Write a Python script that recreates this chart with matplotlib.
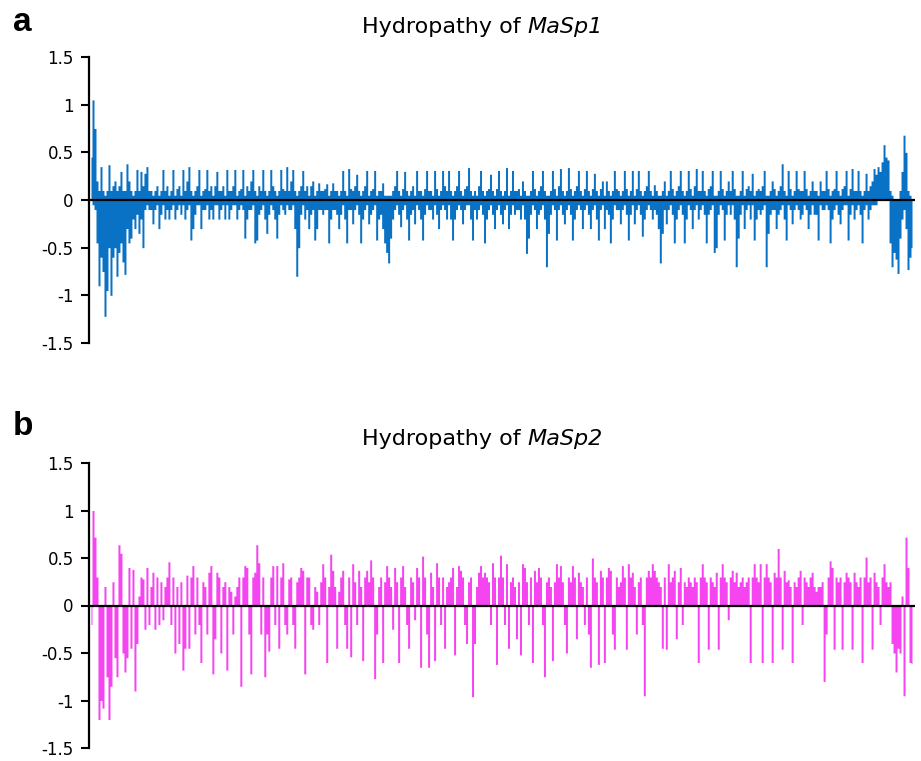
import numpy as np
import matplotlib
matplotlib.use("Agg")
import matplotlib.pyplot as plt

plt.rcParams["font.family"] = ["DejaVu Sans"]

# MaSp1: highest and lowest hydropathy in each ~2 px column
masp1_high = [
    0.45, 1.05, 0.75, 0.2, 0.1, 0.35, 0.1, 0.05, 0.1, 0.37,
    0.1, 0.15, 0.2, 0.1, 0.15, 0.3, 0.1, 0.1, 0.38, 0.2,
    0.1, 0.05, 0.1, 0.32, 0.1, 0.3, 0.15, 0.28, 0.35, 0.1,
    0.1, 0.05, 0.1, 0.15, 0.05, 0.1, 0.32, 0.1, 0.15, 0.05,
    0.1, 0.32, 0.05, 0.12, 0.15, 0.05, 0.32, 0.1, 0.2, 0.35,
    0.1, 0.05, 0.1, 0.15, 0.32, 0.05, 0.1, 0.12, 0.32, 0.1,
    0.15, 0.05, 0.15, 0.3, 0.1, 0.1, 0.15, 0.05, 0.32, 0.1,
    0.1, 0.15, 0.32, 0.05, 0.1, 0.12, 0.32, 0.05, 0.15, 0.1,
    0.2, 0.32, 0.1, 0.05, 0.15, 0.1, 0.32, 0.1, 0.05, 0.1,
    0.32, 0.15, 0.1, 0.05, 0.1, 0.32, 0.12, 0.1, 0.35, 0.1,
    0.2, 0.32, 0.1, 0.05, 0.1, 0.15, 0.31, 0.1, 0.15, 0.05,
    0.15, 0.2, 0.05, 0.1, 0.18, 0.1, 0.1, 0.12, 0.17, 0.05,
    0.1, 0.18, 0.1, 0.1, 0.05, 0.1, 0.31, 0.1, 0.05, 0.33,
    0.12, 0.1, 0.15, 0.27, 0.1, 0.05, 0.1, 0.15, 0.31, 0.05,
    0.1, 0.12, 0.31, 0.05, 0.1, 0.1, 0.18, 0.05, 0.05, 0.05,
    0.05, 0.1, 0.15, 0.31, 0.1, 0.05, 0.12, 0.3, 0.1, 0.05,
    0.1, 0.15, 0.05, 0.31, 0.1, 0.1, 0.05, 0.12, 0.31, 0.1,
    0.1, 0.05, 0.31, 0.12, 0.05, 0.1, 0.31, 0.15, 0.1, 0.31,
    0.1, 0.05, 0.1, 0.15, 0.31, 0.1, 0.05, 0.12, 0.15, 0.34,
    0.1, 0.05, 0.1, 0.05, 0.15, 0.31, 0.1, 0.05, 0.1, 0.12,
    0.27, 0.1, 0.05, 0.12, 0.31, 0.1, 0.05, 0.1, 0.34, 0.05,
    0.1, 0.31, 0.1, 0.1, 0.12, 0.05, 0.2, 0.1, 0.05, 0.05,
    0.1, 0.31, 0.12, 0.05, 0.1, 0.15, 0.31, 0.1, 0.05, 0.05,
    0.1, 0.31, 0.12, 0.05, 0.15, 0.33, 0.1, 0.05, 0.1, 0.34,
    0.12, 0.05, 0.1, 0.15, 0.31, 0.1, 0.05, 0.12, 0.31, 0.1,
    0.05, 0.12, 0.28, 0.1, 0.05, 0.12, 0.2, 0.05, 0.2, 0.1,
    0.05, 0.1, 0.31, 0.12, 0.1, 0.05, 0.1, 0.31, 0.12, 0.05,
    0.1, 0.31, 0.05, 0.12, 0.31, 0.1, 0.05, 0.1, 0.15, 0.31,
    0.1, 0.05, 0.16, 0.1, 0.05, 0.05, 0.1, 0.2, 0.05, 0.1,
    0.31, 0.12, 0.05, 0.1, 0.15, 0.31, 0.1, 0.05, 0.1, 0.31,
    0.12, 0.05, 0.15, 0.33, 0.1, 0.1, 0.31, 0.1, 0.05, 0.12,
    0.15, 0.31, 0.05, 0.05, 0.1, 0.31, 0.12, 0.05, 0.1, 0.2,
    0.1, 0.31, 0.12, 0.05, 0.05, 0.1, 0.31, 0.05, 0.12, 0.15,
    0.1, 0.28, 0.05, 0.1, 0.12, 0.1, 0.15, 0.31, 0.05, 0.05,
    0.1, 0.2, 0.12, 0.05, 0.1, 0.15, 0.38, 0.1, 0.05, 0.31,
    0.12, 0.05, 0.1, 0.31, 0.12, 0.1, 0.1, 0.31, 0.12, 0.05,
    0.1, 0.2, 0.1, 0.1, 0.05, 0.2, 0.1, 0.1, 0.31, 0.12,
    0.05, 0.1, 0.12, 0.31, 0.1, 0.05, 0.12, 0.15, 0.31, 0.05,
    0.12, 0.33, 0.1, 0.1, 0.31, 0.1, 0.05, 0.1, 0.28, 0.1,
    0.15, 0.2, 0.33, 0.27, 0.35, 0.3, 0.4, 0.58, 0.45, 0.42,
    0.1, 0.05, 0.0, 0.0, 0.0, 0.1, 0.3, 0.68, 0.5, 0.1,
    0.05, 0.0,
]

masp1_low = [
    0.0, -0.05, -0.1, -0.45, -0.9, -0.6, -0.75, -1.22, -0.95, -0.5,
    -1.0, -0.6, -0.5, -0.8, -0.55, -0.45, -0.65, -0.78, -0.3, -0.45,
    -0.4, -0.2, -0.3, -0.15, -0.35, -0.2, -0.5, -0.1, -0.05, -0.1,
    -0.1, -0.25, -0.1, -0.05, -0.3, -0.15, -0.05, -0.2, -0.1, -0.2,
    -0.1, -0.05, -0.2, -0.1, -0.05, -0.15, -0.05, -0.2, -0.1, -0.05,
    -0.42, -0.3, -0.15, -0.05, -0.05, -0.3, -0.1, -0.1, -0.05, -0.2,
    -0.1, -0.2, -0.05, -0.05, -0.2, -0.1, -0.05, -0.2, -0.05, -0.2,
    -0.1, -0.05, -0.05, -0.2, -0.1, -0.05, -0.1, -0.4, -0.2, -0.1,
    -0.1, -0.05, -0.45, -0.42, -0.15, -0.1, -0.05, -0.2, -0.35, -0.15,
    -0.05, -0.1, -0.2, -0.4, -0.15, -0.05, -0.1, -0.15, -0.05, -0.1,
    -0.1, -0.05, -0.3, -0.8, -0.5, -0.15, -0.05, -0.2, -0.1, -0.3,
    -0.15, -0.1, -0.42, -0.3, -0.1, -0.1, -0.15, -0.1, -0.1, -0.45,
    -0.2, -0.1, -0.1, -0.15, -0.3, -0.15, -0.05, -0.2, -0.45, -0.1,
    -0.1, -0.25, -0.1, -0.05, -0.15, -0.45, -0.2, -0.1, -0.05, -0.25,
    -0.15, -0.1, -0.05, -0.42, -0.2, -0.15, -0.3, -0.45, -0.55, -0.66,
    -0.4, -0.2, -0.1, -0.05, -0.15, -0.28, -0.1, -0.05, -0.2, -0.42,
    -0.15, -0.1, -0.25, -0.05, -0.1, -0.2, -0.42, -0.15, -0.05, -0.1,
    -0.1, -0.2, -0.05, -0.15, -0.3, -0.1, -0.05, -0.1, -0.2, -0.05,
    -0.2, -0.42, -0.2, -0.1, -0.05, -0.1, -0.25, -0.1, -0.05, -0.05,
    -0.2, -0.42, -0.1, -0.2, -0.1, -0.05, -0.15, -0.45, -0.2, -0.1,
    -0.05, -0.15, -0.3, -0.1, -0.05, -0.15, -0.25, -0.1, -0.05, -0.3,
    -0.15, -0.05, -0.15, -0.1, -0.1, -0.2, -0.05, -0.2, -0.56, -0.4,
    -0.15, -0.05, -0.1, -0.3, -0.15, -0.1, -0.05, -0.2, -0.7, -0.35,
    -0.15, -0.05, -0.1, -0.42, -0.1, -0.05, -0.15, -0.25, -0.1, -0.05,
    -0.15, -0.42, -0.2, -0.1, -0.05, -0.1, -0.3, -0.1, -0.05, -0.15,
    -0.3, -0.1, -0.05, -0.2, -0.42, -0.1, -0.05, -0.3, -0.1, -0.15,
    -0.45, -0.2, -0.05, -0.1, -0.1, -0.25, -0.1, -0.05, -0.15, -0.42,
    -0.15, -0.05, -0.25, -0.1, -0.05, -0.15, -0.38, -0.2, -0.1, -0.05,
    -0.1, -0.2, -0.1, -0.15, -0.3, -0.66, -0.35, -0.1, -0.25, -0.1,
    -0.05, -0.15, -0.45, -0.2, -0.1, -0.05, -0.15, -0.45, -0.2, -0.05,
    -0.1, -0.3, -0.1, -0.05, -0.2, -0.1, -0.05, -0.15, -0.45, -0.15,
    -0.1, -0.05, -0.55, -0.5, -0.15, -0.05, -0.1, -0.42, -0.15, -0.05,
    -0.15, -0.05, -0.2, -0.7, -0.4, -0.15, -0.05, -0.3, -0.1, -0.05,
    -0.2, -0.05, -0.42, -0.2, -0.1, -0.15, -0.1, -0.05, -0.7, -0.35,
    -0.15, -0.1, -0.1, -0.3, -0.15, -0.1, -0.05, -0.2, -0.42, -0.05,
    -0.1, -0.25, -0.1, -0.05, -0.1, -0.2, -0.15, -0.05, -0.1, -0.3,
    -0.15, -0.05, -0.15, -0.15, -0.42, -0.05, -0.1, -0.1, -0.05, -0.1,
    -0.45, -0.2, -0.1, -0.05, -0.15, -0.25, -0.1, -0.05, -0.05, -0.42,
    -0.15, -0.05, -0.2, -0.1, -0.05, -0.15, -0.45, -0.1, -0.05, -0.2,
    -0.1, -0.05, -0.05, -0.05, 0.0, 0.0, 0.0, 0.0, 0.0, 0.0,
    -0.45, -0.7, -0.55, -0.62, -0.77, -0.4, -0.2, -0.1, -0.3, -0.73,
    -0.6, -0.5,
]

# MaSp2: one hydropathy value per ~2 px column
masp2 = [
    -0.2, 1.0, 0.72, 0.3, -1.2, -1.0, -1.08, 0.2, -0.75, -1.2,
    -0.85, 0.25, -0.55, -0.75, 0.64, 0.55, -0.5, -0.7, -0.55, 0.4,
    -0.45, 0.38, -0.9, -0.4, 0.1, 0.3, 0.28, -0.25, 0.4, -0.2,
    0.2, 0.35, -0.25, 0.3, -0.2, 0.25, -0.15, 0.2, 0.3, 0.46,
    -0.2, 0.3, -0.5, 0.2, -0.4, 0.25, -0.68, -0.45, 0.32, -0.45,
    0.3, 0.42, -0.3, 0.3, -0.2, -0.6, 0.25, 0.2, -0.3, 0.35,
    0.42, -0.72, -0.35, 0.35, 0.3, -0.5, 0.2, 0.25, -0.68, 0.2,
    0.15, -0.3, 0.1, 0.2, 0.3, -0.85, 0.3, 0.42, 0.4, -0.3,
    -0.72, 0.3, 0.35, 0.64, 0.45, -0.3, 0.3, -0.75, -0.3, -0.48,
    0.3, 0.42, -0.2, 0.42, -0.45, 0.3, 0.45, -0.2, -0.3, 0.28,
    0.3, -0.2, -0.45, 0.25, 0.3, 0.4, 0.37, -0.72, 0.3, 0.3,
    -0.2, -0.25, 0.2, 0.15, -0.2, 0.25, 0.44, 0.3, -0.6, 0.2,
    0.54, 0.37, 0.2, -0.45, 0.15, 0.3, 0.37, -0.2, -0.45, 0.3,
    -0.54, 0.44, 0.25, -0.2, 0.37, 0.2, -0.58, 0.3, 0.37, 0.25,
    0.48, 0.3, -0.77, -0.3, 0.2, 0.3, -0.6, 0.25, 0.42, 0.3,
    0.2, -0.25, 0.4, 0.25, -0.6, 0.3, 0.42, 0.2, -0.2, -0.45,
    0.3, 0.25, -0.15, 0.4, 0.3, -0.65, 0.52, 0.3, -0.3, -0.65,
    0.35, 0.2, -0.58, 0.45, 0.3, -0.2, 0.3, -0.45, 0.2, 0.25,
    0.3, 0.4, -0.52, 0.2, 0.42, 0.37, 0.3, -0.2, -0.4, 0.25,
    0.3, -0.96, -0.4, 0.2, 0.35, 0.42, 0.3, 0.35, 0.3, 0.25,
    -0.2, 0.45, 0.3, -0.62, 0.3, 0.53, 0.3, -0.2, 0.44, -0.45,
    0.25, 0.3, 0.2, -0.35, 0.25, -0.52, 0.44, 0.4, 0.25, -0.2,
    0.3, -0.6, 0.37, 0.25, 0.4, 0.3, -0.2, -0.75, 0.25, 0.3,
    0.2, -0.58, 0.25, 0.44, 0.3, 0.42, 0.25, -0.2, -0.5, 0.3,
    0.25, 0.42, 0.3, -0.35, 0.35, 0.25, 0.2, -0.2, 0.3, -0.3,
    -0.65, 0.5, 0.3, 0.25, -0.62, 0.37, 0.3, -0.6, 0.3, 0.4,
    0.37, -0.3, -0.46, 0.3, 0.2, 0.25, 0.42, 0.3, -0.46, 0.44,
    0.3, 0.35, 0.2, -0.3, 0.25, 0.3, -0.2, -0.95, 0.3, 0.37,
    0.3, 0.44, 0.37, 0.3, 0.25, 0.2, -0.45, 0.3, -0.46, 0.44,
    0.25, 0.3, 0.37, -0.35, 0.25, 0.4, -0.2, 0.25, 0.2, 0.3,
    0.25, 0.2, 0.3, 0.25, -0.6, 0.3, 0.44, 0.3, 0.25, -0.46,
    0.3, 0.25, 0.2, 0.35, -0.46, 0.3, 0.44, 0.3, 0.25, -0.15,
    0.3, 0.37, 0.25, 0.35, 0.2, 0.25, 0.3, 0.2, 0.25, 0.3,
    -0.6, 0.3, 0.44, 0.3, 0.25, 0.44, -0.6, 0.3, 0.44, 0.3,
    0.25, -0.6, 0.35, 0.3, 0.6, 0.3, -0.46, 0.37, 0.25, 0.27,
    0.2, -0.6, 0.25, 0.2, 0.3, 0.37, -0.2, 0.3, 0.25, 0.2,
    0.3, 0.35, 0.2, 0.15, 0.2, 0.2, 0.25, -0.8, -0.3, 0.3,
    0.47, 0.4, -0.46, 0.3, 0.25, 0.3, -0.46, 0.25, 0.35, 0.3,
    0.25, -0.46, 0.35, 0.25, 0.2, 0.3, -0.6, 0.3, 0.51, 0.25,
    0.3, -0.46, 0.35, 0.25, 0.2, -0.2, 0.3, 0.44, 0.25, 0.2,
    0.25, -0.4, -0.5, -0.7, -0.45, -0.5, 0.1, -0.95, 0.72, 0.4,
    -0.6, -0.61,
]

yticks = [1.5, 1, 0.5, 0, -0.5, -1, -1.5]
ytick_labels = ["1.5", "1", "0.5", "0", "-0.5", "-1", "-1.5"]

W, H = 921, 761


def title(fig, renderer, cx, base_y, gene):
    # plain part + italic gene name, centred together
    t1 = fig.text(0, base_y, "Hydropathy of", fontsize=16, va="baseline")
    t2 = fig.text(0, base_y, gene, fontsize=16, style="italic", va="baseline")
    w1 = t1.get_window_extent(renderer).width
    w2 = t2.get_window_extent(renderer).width
    gap = 7
    left = cx - (w1 + gap + w2) / 2
    t1.set_x(left / W)
    t2.set_x((left + w1 + gap) / W)


def draw_panel(fig, rect, letter, gene, series, color, title_y, letter_y):
    ax = fig.add_axes(rect)
    n = len(series[0])
    x = np.arange(n)
    for values in series:
        ax.fill_between(x, 0, np.array(values), step="mid", color=color, linewidth=0)
    ax.axhline(0, color="black", lw=1.6, zorder=3)

    ax.set_xlim(-1, n + 0.5)
    ax.set_ylim(-1.5, 1.5)
    ax.set_yticks(yticks)
    ax.set_yticklabels(ytick_labels)
    ax.set_xticks([])
    for side in ("top", "right", "bottom"):
        ax.spines[side].set_visible(False)
    ax.spines["left"].set_linewidth(1.6)
    ax.tick_params(axis="y", direction="out", length=6, width=1.5, labelsize=12, pad=5)

    fig.text(13 / W, letter_y, letter, ha="left", va="baseline",
             fontsize=24, fontweight="bold", family="Liberation Sans")
    title(fig, fig.canvas.get_renderer(), 482, title_y, gene)
    return ax


assert len(masp1_high) == len(masp1_low)

fig = plt.figure(figsize=(9.21, 7.61), dpi=100)
draw_panel(fig, [89 / W, 1 - 343 / H, 826 / W, 286 / H],
           "a", "MaSp1", [masp1_high, masp1_low], "#0a72c4",
           title_y=1 - 33 / H, letter_y=1 - 31 / H)
draw_panel(fig, [89 / W, 1 - 748 / H, 826 / W, 285 / H],
           "b", "MaSp2", [masp2], "#f545f0",
           title_y=1 - 445 / H, letter_y=1 - 435 / H)

fig.savefig("out.png", dpi=100)
plt.close(fig)
